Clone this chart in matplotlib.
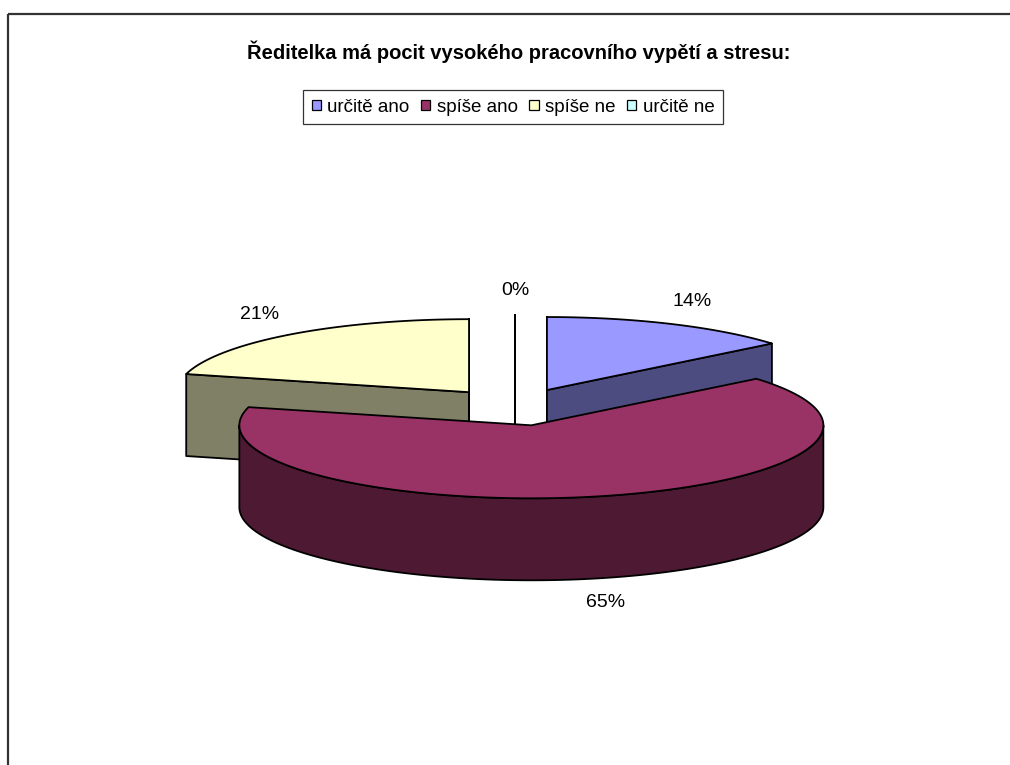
import numpy as np
import matplotlib
matplotlib.use("Agg")
import matplotlib.pyplot as plt
from matplotlib.patches import Polygon, Rectangle, Patch

plt.rcParams['font.family'] = ['Liberation Sans', 'DejaVu Sans']

# Survey answers and their shares (percent)
categories = ["určitě ano", "spíše ano", "spíše ne", "určitě ne"]
shares = [14, 65, 21, 0]
top_colors = ["#9999FF", "#993366", "#FFFFCC", "#CCFFFF"]
side_colors = ["#4C4C80", "#4D1933", "#808066", "#668080"]
title = "Ředitelka má pocit vysokého pracovního vypětí a stresu:"

# Pie geometry in pixel space of the canvas
W, H = 1010, 765
cx, cy = 515, 407          # centre of the un-exploded pie
a, b = 292, 73             # ellipse semi-axes of the tilted top face
depth = 82                 # thickness of the pie
explode = 75               # explosion distance of every slice
EDGE = dict(edgecolor="black", linewidth=1.3, joinstyle="round")

fig = plt.figure(figsize=(W / 100, H / 100), dpi=100)
ax = fig.add_axes([0, 0, 1, 1])
ax.set_xlim(0, W)
ax.set_ylim(H, 0)
ax.axis("off")

# chart-area border
ax.add_patch(Rectangle((8, 14), W + 20, H + 20, fill=False,
                       edgecolor="#333333", linewidth=1.6))


def rim(ox, oy, theta, dz=0.0):
    """Point on the rim; theta in degrees, clockwise from 12 o'clock."""
    t = np.radians(theta)
    return np.column_stack([ox + a * np.sin(t), oy - b * np.cos(t) + dz])


total = float(sum(shares))
bounds = np.concatenate([[0], np.cumsum(shares)]) / total * 360.0

slices = []
for i, v in enumerate(shares):
    t0, t1 = bounds[i], bounds[i + 1]
    mid = np.radians((t0 + t1) / 2)
    ox = cx + explode * np.sin(mid)
    oy = cy - explode * (b / a) * np.cos(mid)
    slices.append((oy, i, t0, t1, ox))

# paint from back to front
for oy, i, t0, t1, ox in sorted(slices):
    apex = np.array([[ox, oy]])
    # radial faces that face the viewer
    for edge_t, normal in ((t0, t0 - 90), (t1, t1 + 90)):
        if np.cos(np.radians(normal)) <= 1e-9:
            p = rim(ox, oy, edge_t)[0]
            quad = np.array([[ox, oy], p, p + [0, depth], [ox, oy + depth]])
            ax.add_patch(Polygon(quad, closed=True, facecolor=side_colors[i], **EDGE))
    # curved outer wall, only the front half is visible
    s, e = max(t0, 90), min(t1, 270)
    if e > s:
        ts = np.linspace(s, e, 200)
        wall = np.vstack([rim(ox, oy, ts), rim(ox, oy, ts[::-1], depth)])
        ax.add_patch(Polygon(wall, closed=True, facecolor=side_colors[i], **EDGE))
    # top face
    ts = np.linspace(t0, t1, max(2, int((t1 - t0) * 2)))
    top = np.vstack([apex, rim(ox, oy, ts)])
    ax.add_patch(Polygon(top, closed=True, facecolor=top_colors[i], **EDGE))

    # percentage label
    mid = np.radians((t0 + t1) / 2)
    lx = ox + 1.17 * a * np.sin(mid)
    ly = oy - 1.34 * b * np.cos(mid)
    if np.cos(mid) < 0:
        ly += depth
    ax.text(lx, ly, f"{shares[i]:.0f}%", ha="center", va="center", fontsize=14)

ax.text(519, 52, title, ha="center", va="center", fontsize=14.5, fontweight="bold")

handles = [Patch(facecolor=c, edgecolor="black", linewidth=0.9) for c in top_colors]
leg = fig.legend(handles, categories, loc="center", bbox_to_anchor=(513 / W, 1 - 107 / H),
                 ncol=4, fontsize=13.5, frameon=True, fancybox=False, shadow=False,
                 handlelength=0.5, handleheight=0.5, handletextpad=0.35,
                 columnspacing=0.6, borderpad=0.45, borderaxespad=0)
leg.get_frame().set_edgecolor("black")
leg.get_frame().set_linewidth(0.9)

fig.savefig("out.png", dpi=100)
